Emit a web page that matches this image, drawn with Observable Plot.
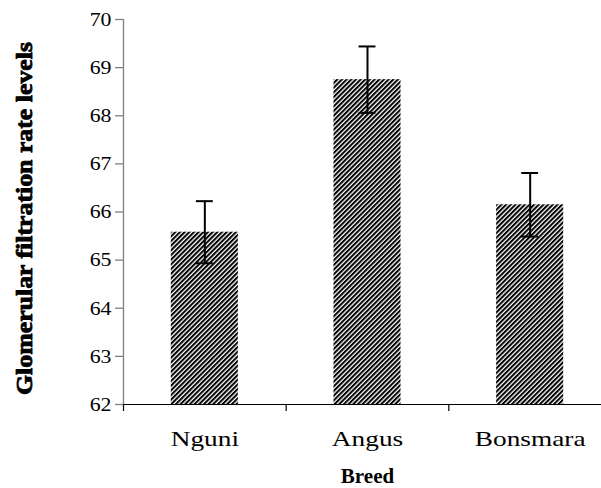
<!DOCTYPE html>
<html>
<head>
<meta charset="utf-8">
<script src="https://cdn.jsdelivr.net/npm/d3@7"></script>
<script src="https://cdn.jsdelivr.net/npm/@observablehq/plot@0.6"></script>
<style>
  html, body { margin: 0; padding: 0; background: white; overflow: hidden; }
  #chart svg { display: block; }
</style>
</head>
<body>
<div id="chart"></div>
<script>
const breeds = ["Nguni", "Angus", "Bonsmara"];
const means = [65.58, 68.75, 66.15];
const errors = [0.645, 0.69, 0.66];
const yTicks = [62, 63, 64, 65, 66, 67, 68, 69, 70];
const yTitle = "Glomerular filtration rate levels";
const xTitle = "Breed";

const data = breeds.map((b, i) => ({breed: b, i, mean: means[i], err: errors[i]}));
const barHalf = 0.206;
const capHalf = 0.052;
const serif = "Liberation Serif";

const hatchDefs = () => {
  const ns = "http://www.w3.org/2000/svg";
  const defs = document.createElementNS(ns, "defs");
  defs.innerHTML = `<pattern id="hatch" patternUnits="userSpaceOnUse" width="3.3" height="3.3" patternTransform="rotate(45)">
      <rect width="3.3" height="3.3" fill="white"/>
      <rect width="2" height="3.3" fill="black"/>
    </pattern>`;
  return defs;
};

const chart = Plot.plot({
  width: 601,
  height: 488,
  marginLeft: 123,
  marginRight: -10,
  marginTop: 19,
  marginBottom: 84,
  style: {fontFamily: serif, fontSize: "19px", color: "black", background: "white"},
  x: {type: "linear", domain: [0, 3], axis: null},
  y: {domain: [62, 70], axis: null},
  marks: [
    hatchDefs,
    Plot.rectY(data, {x1: d => d.i + 0.5 - barHalf, x2: d => d.i + 0.5 + barHalf, y1: 62, y2: "mean", fill: "url(#hatch)"}),
    Plot.ruleX(data, {x: d => d.i + 0.5, y1: d => d.mean - d.err, y2: d => d.mean + d.err, stroke: "black", strokeWidth: 2}),
    Plot.ruleY(data, {y: d => d.mean + d.err, x1: d => d.i + 0.5 - capHalf, x2: d => d.i + 0.5 + capHalf, stroke: "black", strokeWidth: 2}),
    Plot.ruleY(data, {y: d => d.mean - d.err, x1: d => d.i + 0.5 - capHalf, x2: d => d.i + 0.5 + capHalf, stroke: "black", strokeWidth: 2}),
    Plot.ruleX([0], {stroke: "#808080", strokeWidth: 1.3}),
    Plot.ruleY([62], {stroke: "black", strokeWidth: 1.2}),
    Plot.axisY({ticks: yTicks, tickSize: 8, tickPadding: 4, stroke: "#808080", strokeWidth: 1.3, label: null, fontFamily: serif, fontSize: 19.5, className: "ytick"}),
    Plot.axisX({ticks: [0, 1, 2, 3], tickSize: 7, tickFormat: () => "", label: null, strokeWidth: 1.2}),
    Plot.axisX({ticks: [0.5, 1.5, 2.5], tickSize: 0, tickPadding: 27, tickFormat: t => breeds[Math.floor(t)], label: null, fontSize: 21, fontFamily: serif, className: "xlab"}),
    Plot.text([yTitle], {frameAnchor: "left", textAnchor: "middle", lineAnchor: "middle", rotate: -90, dx: -99, dy: 6.5, fontWeight: "bold", fontSize: 23, fontFamily: serif, className: "ytitle", fill: "black", stroke: "black", strokeWidth: 0.8}),
    Plot.text([xTitle], {frameAnchor: "bottom", dy: 72, fontWeight: "bold", fontSize: 21, fontFamily: serif, lineAnchor: "middle"})
  ]
});
document.getElementById("chart").appendChild(chart);

chart.querySelectorAll("text").forEach(t => {
  t.style.fontFamily = "'Liberation Serif', serif";
});

// stretch tick labels horizontally as in the reference
function stretch(sel, factor) {
  chart.querySelectorAll(sel).forEach(t => {
    const len = t.getComputedTextLength();
    t.setAttribute("textLength", (len * factor).toFixed(1));
    t.setAttribute("lengthAdjust", "spacingAndGlyphs");
  });
}
stretch(".xlab text", 1.3);
stretch(".ytick text", 1.12);
chart.querySelectorAll(".ytitle text").forEach(t => {
  t.setAttribute("textLength", "353");
  t.setAttribute("lengthAdjust", "spacingAndGlyphs");
});
</script>
</body>
</html>
